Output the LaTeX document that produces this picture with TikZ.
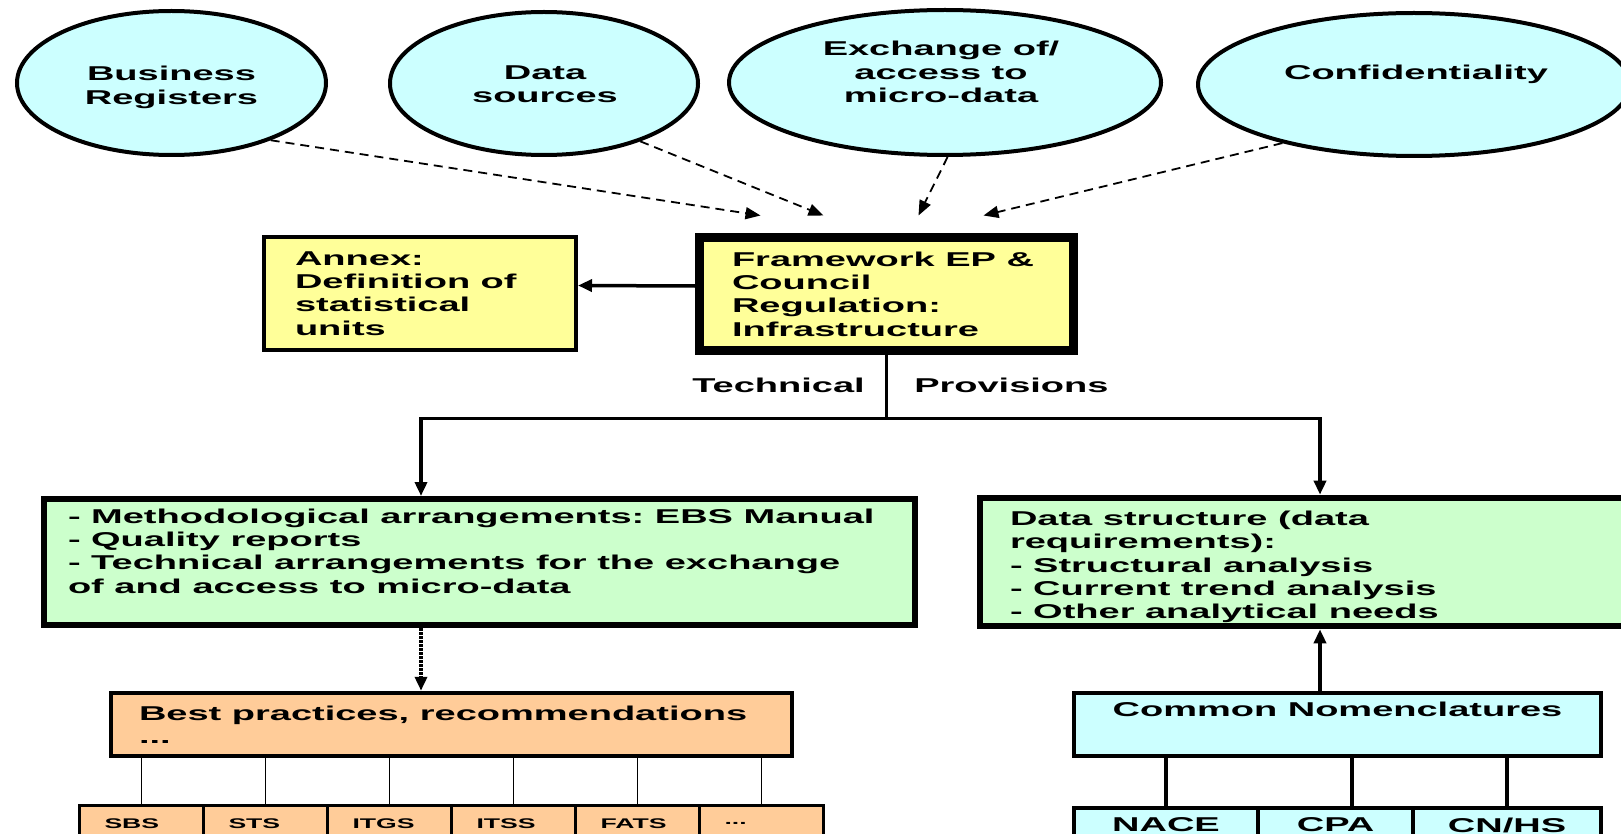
\documentclass[tikz,border=0pt]{standalone}
\usepackage{fontspec}
\setmainfont[FakeStretch=1.9]{Liberation Sans}
\frenchspacing
\usetikzlibrary{shapes.geometric,arrows.meta}

\definecolor{skyfill}{HTML}{CCFFFF}
\definecolor{lemonfill}{HTML}{FFFF99}
\definecolor{mintfill}{HTML}{CCFFCC}
\definecolor{peachfill}{HTML}{FFCC99}

\begin{document}
\begin{tikzpicture}[x=1pt,y=1pt,
  font=\fontsize{20}{23.3}\selectfont\bfseries,
  topic/.style={ellipse, draw, line width=4pt, fill=skyfill, inner sep=0pt},
  topictext/.style={align=center, inner sep=0pt},
  card/.style={rectangle, draw, align=flush left},
  unit/.style={rectangle, draw, line width=2.5pt, fill=peachfill, align=flush left,
    text width=74pt, inner xsep=25pt, minimum height=36pt,
    font=\fontsize{14}{16}\selectfont\bfseries},
  code/.style={rectangle, draw, line width=4pt, fill=skyfill, minimum height=34pt},
  feed/.style={line width=1.8pt, dash pattern=on 9pt off 6pt,
    -{Triangle[length=15pt,width=12pt]}},
  stem/.style={line width=3.5pt},
  push/.style={stem, -{Triangle[length=14pt,width=12pt]}},
  hint/.style={line width=4pt, dash pattern=on 2.5pt off 1.5pt,
    -{Triangle[length=14pt,width=12pt]}},
  twig/.style={line width=1.2pt}]

\useasboundingbox (0,0) rectangle (1621,-834);

% Topics on top
\node[topic, minimum width=309, minimum height=144] (busreg) at (171.5,-83) {};
\node[topictext] (busregtxt) at ([yshift=-4.5pt]busreg.center) {Business\\Registers};
\node[topic, minimum width=308, minimum height=143] (datasrc) at (544,-83.5) {};
\node[topictext] (datasrctxt) at ([xshift=1pt,yshift=-1pt]datasrc.center) {Data\\sources};
\node[topic, minimum width=432, minimum height=145] (exch) at (945,-82.5) {};
\node[topictext] (exchtxt) at ([xshift=-4pt,yshift=10.5pt]exch.center) {Exchange of/\\access to\\micro-data};
\node[topic, minimum width=432, minimum height=143] (confid) at (1414,-84.5) {};
\node[topictext] (confidtxt) at ([xshift=2pt,yshift=10pt]confid.center) {Confidentiality};

% Regulation and annex
\node[card, line width=9pt, fill=lemonfill, text width=309pt, inner xsep=32.5pt, minimum height=113pt] (frame) at (886.5,-294) {Framework EP \&\\Council\\Regulation:\\Infrastructure};
\node[card, line width=4pt, fill=lemonfill, text width=250pt, inner xsep=31pt, minimum height=113pt] (annex) at (420,-293.5) {Annex:\\Definition of\\statistical\\units};

% Technical provisions
\node[card, line width=6pt, fill=mintfill, text width=823pt, inner xsep=24pt, minimum height=126pt] (methods) at (479.5,-562) {- Methodological arrangements: EBS Manual\\- Quality reports\\- Technical arrangements for the exchange\\of and access to micro-data\\[-8pt] \strut};
\node[card, line width=6pt, fill=mintfill, text width=620pt, inner xsep=30pt, minimum height=126pt] (needs) at (1320,-562) {\strut\\[-15pt] Data structure (data\\requirements):\\- Structural analysis\\- Current trend analysis\\- Other analytical needs};

% Lower level
\node[card, line width=4.5pt, fill=peachfill, text width=625pt, inner xsep=28pt, minimum height=63pt] (practice) at (451.5,-724.5) {Best practices, recommendations\\...};
\node[card, line width=4pt, fill=skyfill, align=center, minimum width=527pt, minimum height=63pt] (nomencl) at (1337.5,-724.5) {Common Nomenclatures\\ \strut};

\node[unit] (sbs) at (141.5,-823.25) {SBS};
\node[unit] (sts) at (265.5,-823.25) {STS};
\node[unit] (itgs) at (389.5,-823.25) {ITGS};
\node[unit] (itss) at (513.5,-823.25) {ITSS};
\node[unit] (fats) at (637.5,-823.25) {FATS};
\node[unit] (others) at (761.5,-823.25) {...};

\node[code, minimum width=184pt] (nace) at (1166,-825) {NACE};
\node[code, minimum width=155pt] (cpa) at (1335.5,-825) {CPA};
\node[code, minimum width=188pt] (cnhs) at (1507,-825) {CN/HS};

% Connectors
\draw[feed] (busreg.-30) -- ([xshift=-126pt,yshift=17.5pt]frame.north);
\draw[feed] (datasrc.-31) -- ([xshift=-63pt,yshift=17.5pt]frame.north);
\draw[feed] (exch.-88) -- ([xshift=32pt,yshift=17.5pt]frame.north);
\draw[feed] (confid.-156) -- ([xshift=97pt,yshift=17.5pt]frame.north);

\draw[push] ([yshift=8pt]frame.west) -- ([yshift=8pt]annex.east);

\coordinate (split) at ([yshift=-63.5pt]frame.south);
\draw[stem] (frame.south) -- node[pos=0.48, left=20pt, inner sep=0pt] (techlbl) {Technical}
  node[pos=0.48, right=26pt, inner sep=0pt] (provlbl) {Provisions} (split);
\draw[push] (split) -| ([xshift=-58.5pt]methods.north);
\draw[push] (split) -| (needs.north);

\draw[hint] ([xshift=-58.5pt]methods.south) -- ([xshift=-58.5pt]methods.south |- practice.north);
\draw[push] (nomencl.north -| needs.south) -- (needs.south);

\draw[twig] (sbs.north |- practice.south) -- (sbs.north);
\draw[twig] (sts.north |- practice.south) -- (sts.north);
\draw[twig] (itgs.north |- practice.south) -- (itgs.north);
\draw[twig] (itss.north |- practice.south) -- (itss.north);
\draw[twig] (fats.north |- practice.south) -- (fats.north);
\draw[twig] (others.north |- practice.south) -- (others.north);

\draw[line width=3.5pt] (nace.north |- nomencl.south) -- (nace.north);
\draw[line width=3.5pt] ([xshift=16.5pt]cpa.north |- nomencl.south) -- ([xshift=16.5pt]cpa.north);
\draw[line width=3.5pt] (cnhs.north |- nomencl.south) -- (cnhs.north);
\end{tikzpicture}
\end{document}
